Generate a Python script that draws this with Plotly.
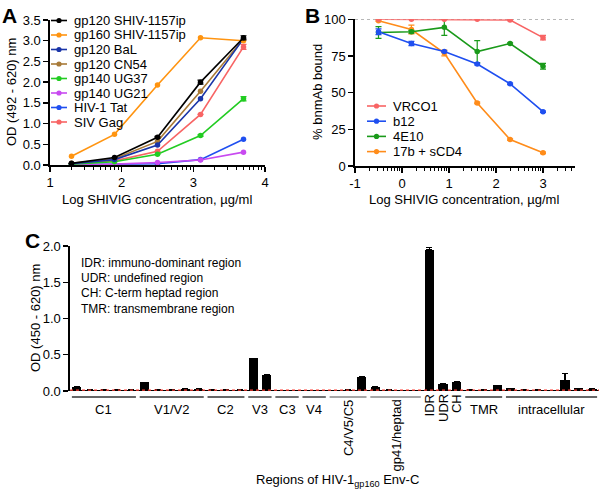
import plotly.graph_objects as go

W, H = 600, 493
FONT = "Liberation Sans, Arial, Helvetica, sans-serif"

# ---------------- Panel A data ----------------
a_logconc = [1.3, 1.9, 2.5, 3.1, 3.7]
a_names = ["gp120 SHIV-1157ip", "gp160 SHIV-1157ip", "gp120 BaL", "gp120 CN54",
           "gp140 UG37", "gp140 UG21", "HIV-1 Tat", "SIV Gag"]
a_gp120_shiv = [0.04, 0.18, 0.67, 2.00, 3.07]
a_gp160_shiv = [0.21, 0.74, 1.93, 3.07, 3.00]
a_gp120_bal = [0.03, 0.13, 0.48, 1.60, 3.05]
a_gp120_cn54 = [0.04, 0.15, 0.57, 1.78, 3.05]
a_gp140_ug37 = [0.02, 0.08, 0.26, 0.71, 1.60]
a_gp140_ug21 = [0.01, 0.02, 0.06, 0.12, 0.31]
a_hiv_tat = [0.01, 0.02, 0.03, 0.13, 0.62]
a_siv_gag = [0.03, 0.10, 0.33, 1.22, 2.85]
a_err_gp120_shiv = [0, 0, 0.02, 0.05, 0.05]
a_err_gp140_ug37 = [0, 0, 0, 0.02, 0.05]
a_err_siv_gag = [0, 0, 0, 0, 0.06]
a_colors = ["#000000", "#ff9410", "#1a35a8", "#a87a38", "#22cc22", "#c84af0", "#1f4ff0", "#f86464"]

# ---------------- Panel B data ----------------
b_logconc = [-0.5, 0.2, 0.9, 1.6, 2.3, 3.0]
b_names = ["VRCO1", "b12", "4E10", "17b + sCD4"]
b_vrc01 = [100, 100, 100, 100, 99.5, 87.5]
b_b12 = [91.5, 83.5, 78, 69.5, 56, 37]
b_4e10 = [91, 91.5, 94.5, 78, 83.5, 68]
b_17b = [99, 93, 77, 43, 18, 9]
b_err_vrc01 = [0, 0, 0, 0, 0.5, 1.5]
b_err_b12 = [2, 1.5, 0.5, 0.5, 0.5, 0.5]
b_err_4e10 = [4, 1, 5.5, 7.5, 0.5, 2]
b_err_17b = [0.5, 3, 2, 0.5, 0.5, 0.5]
b_colors = ["#f86464", "#1f4ff0", "#1a9a1a", "#ff8c1a"]

# ---------------- Panel C data ----------------
c_values = [0.06, 0.02, 0.02, 0.02, 0.02,
            0.12, 0.02, 0.02, 0.03, 0.03,
            0.02, 0.02, 0.02,
            0.45, 0.22,
            0.01, 0.01,
            0.01, 0.01,
            0.01, 0.02, 0.20,
            0.06, 0.02, 0.01, 0.01,
            1.95, 0.10, 0.13,
            0.02, 0.02, 0.08,
            0.04, 0.02, 0.02, 0.01, 0.15, 0.04, 0.03]
c_err = [0] * 26 + [0.03] + [0] * 9 + [0.09, 0, 0]
c_groups = [("C1", 0, 4, False), ("V1/V2", 5, 9, False), ("C2", 10, 12, False),
            ("V3", 13, 14, False), ("C3", 15, 16, False), ("V4", 17, 18, False),
            ("C4/V5/C5", 19, 21, True), ("gp41/heptad", 22, 25, True),
            ("TMR", 29, 31, False), ("intracellular", 32, 38, False)]
c_single = [("IDR", 26), ("UDR", 27), ("CH", 28)]
c_notes = ["IDR: immuno-dominant region", "UDR: undefined region",
           "CH: C-term heptad region", "TMR: transmembrane region"]


def px(x):
    return x / W


def py(y):
    return 1 - y / H


fig = go.Figure()

a_data = [a_gp120_shiv, a_gp160_shiv, a_gp120_bal, a_gp120_cn54,
          a_gp140_ug37, a_gp140_ug21, a_hiv_tat, a_siv_gag]
a_errs = {0: a_err_gp120_shiv, 4: a_err_gp140_ug37, 7: a_err_siv_gag}
xa = [10 ** v for v in a_logconc]
for i in reversed(range(len(a_names))):
    ev = a_errs.get(i)
    fig.add_trace(go.Scatter(
        x=xa, y=a_data[i], name=a_names[i], mode="lines+markers",
        line=dict(color=a_colors[i], width=1.6),
        marker=dict(color=a_colors[i], size=5.5),
        error_y=dict(type="data", array=ev, color=a_colors[i], thickness=1.2, width=3,
                     visible=ev is not None),
        xaxis="x", yaxis="y", showlegend=False))

b_data = [b_vrc01, b_b12, b_4e10, b_17b]
b_errs = [b_err_vrc01, b_err_b12, b_err_4e10, b_err_17b]
xb = [10 ** v for v in b_logconc]
for i in reversed(range(len(b_names))):
    fig.add_trace(go.Scatter(
        x=xb, y=b_data[i], name=b_names[i], mode="lines+markers",
        line=dict(color=b_colors[i], width=1.6),
        marker=dict(color=b_colors[i], size=5.5),
        error_y=dict(type="data", array=b_errs[i], color=b_colors[i], thickness=1.2, width=3),
        xaxis="x2", yaxis="y2", showlegend=False))

fig.add_trace(go.Bar(
    x=list(range(len(c_values))), y=c_values, width=0.68,
    marker=dict(color="#000000", line=dict(width=0)),
    error_y=dict(type="data", array=c_err, symmetric=False, arrayminus=[0] * len(c_err),
                 color="#000000", thickness=1.2, width=3),
    xaxis="x3", yaxis="y3", showlegend=False))

axis_common = dict(showline=True, linecolor="black", linewidth=1.6, ticks="outside",
                   ticklen=5, tickwidth=1.4, tickcolor="black", showgrid=False,
                   zeroline=False, automargin=False,
                   tickfont=dict(size=13, color="black", family=FONT))

fig.update_layout(
    width=W, height=H, margin=dict(l=0, r=0, t=0, b=0, autoexpand=False),
    paper_bgcolor="white", plot_bgcolor="white",
    font=dict(family=FONT, color="black", size=13),
    xaxis=dict(axis_common, type="log", range=[1, 4], domain=[px(50), px(265)], anchor="y",
               tickvals=[10, 100, 1000, 10000], ticktext=["1", "2", "3", "4"],
               minor=dict(ticks="outside", ticklen=3, tickwidth=1, tickcolor="black",
                          tickvals=[m * 10 ** d for d in range(1, 4) for m in range(2, 10)])),
    yaxis=dict(axis_common, range=[0, 3.5], dtick=0.5, tickformat=".1f",
               domain=[py(165), py(20)], anchor="x"),
    xaxis2=dict(axis_common, type="log", range=[-1, 3.68], domain=[px(355), px(575)], anchor="y2",
                tickvals=[0.1, 1, 10, 100, 1000], ticktext=["-1", "0", "1", "2", "3"],
                minor=dict(ticks="outside", ticklen=3, tickwidth=1, tickcolor="black",
                           tickvals=[m * 10 ** d for d in range(-1, 4) for m in range(2, 10)
                                     if m * 10 ** d < 4700])),
    yaxis2=dict(axis_common, range=[0, 100], tickvals=[0, 25, 50, 75, 100],
                domain=[py(166), py(19.3)], anchor="x2"),
    xaxis3=dict(range=[-0.5, 38.5], domain=[px(70), px(599)], anchor="y3", automargin=False,
                showline=False, showticklabels=False, ticks="", showgrid=False, zeroline=False),
    yaxis3=dict(axis_common, range=[0, 2.0], tickvals=[0, 0.5, 1.0, 1.5, 2.0], tickformat=".1f",
                domain=[py(391), py(246)], anchor="x3"),
    bargap=0,
)

shapes = []
ann = []


def text(x, y, t, size=13, xref="paper", xa="center", ya="middle", angle=0):
    ann.append(dict(x=x, y=y, xref=xref, yref="paper", text=t, showarrow=False,
                    xanchor=xa, yanchor=ya, textangle=angle, borderpad=0,
                    font=dict(size=size, color="black", family=FONT)))


shapes.append(dict(type="line", xref="x2 domain", yref="y2", x0=0, x1=1, y0=100, y1=100,
                   line=dict(color="#888888", width=1, dash="dot"), layer="below"))

shapes.append(dict(type="line", xref="x3 domain", yref="y3", x0=0, x1=1, y0=0.0, y1=0.0,
                   line=dict(color="black", width=2)))
shapes.append(dict(type="line", xref="x3 domain", yref="y3", x0=0, x1=1, y0=0.012, y1=0.012,
                   line=dict(color="#ff3b30", width=1.2, dash="dot")))


def legend_item(x_line0, x_line1, x_text, y, color, label):
    shapes.append(dict(type="line", xref="paper", yref="paper", x0=px(x_line0), x1=px(x_line1),
                       y0=py(y), y1=py(y), line=dict(color=color, width=1.6)))
    xc = (x_line0 + x_line1) / 2
    r = 2.6
    shapes.append(dict(type="circle", xref="paper", yref="paper", x0=px(xc - r), x1=px(xc + r),
                       y0=py(y + r), y1=py(y - r), fillcolor=color, line=dict(color=color, width=0)))
    text(px(x_text), py(y), label, xa="left")


for i, n in enumerate(a_names):
    legend_item(51, 67, 73, 20.5 + 14.5 * i, a_colors[i], n)
for i, n in enumerate(b_names):
    legend_item(367, 386, 392, 106 + 15.2 * i, b_colors[i], n)

# Axis titles
text(px(12), py(92), "OD (492 - 620) nm", angle=-90)
text(px(157), py(199), "Log SHIVIG concentration, µg/ml")
text(px(318), py(92), "% bnmAb bound", angle=-90)
text(px(464), py(199), "Log SHIVIG concentration, µg/ml")
text(px(35), py(318), "OD (450 - 620) nm", angle=-90)
text(px(337), py(480), "Regions of HIV-1<sub>gp160</sub> Env-C")

# Panel letters
for letter, x, y in [("A", 9, 15), ("B", 313, 15), ("C", 32, 240)]:
    text(px(x), py(y), "<b>%s</b>" % letter, size=21)

# Notes in panel C
for i, t in enumerate(c_notes):
    text(px(80), py(263 + 15.2 * i), t, size=12, xa="left")

# Group underlines & labels
for name, s, e, rot in c_groups:
    col = "#888888" if name in ("C4/V5/C5", "gp41/heptad") else "#333333"
    shapes.append(dict(type="line", xref="x3", yref="paper", x0=s - 0.36, x1=e + 0.36,
                       y0=py(397), y1=py(397), line=dict(color=col, width=1.4)))
    xc = (s + e) / 2
    if rot:
        text(xc, py(399), name, xref="x3", ya="top", angle=-90)
    else:
        text(xc, py(409), name, xref="x3")
for name, i in c_single:
    text(i, py(393), name, xref="x3", ya="top", angle=-90)

fig.update_layout(shapes=shapes, annotations=ann)
fig.write_html("out.html", config={"displayModeBar": False, "staticPlot": True},
               post_script="document.body.style.margin='0';document.body.style.padding='0';"
                           "document.body.style.overflow='hidden';")
